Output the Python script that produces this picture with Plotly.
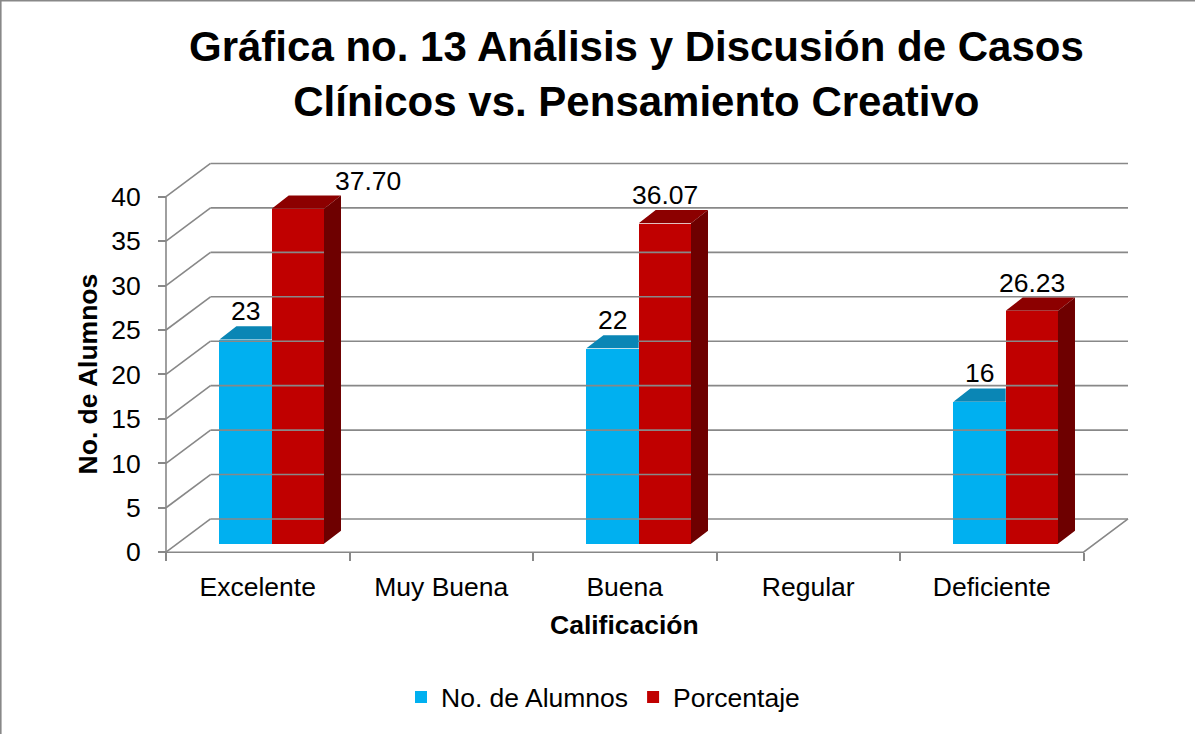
import plotly.graph_objects as go

# ---- data -------------------------------------------------------------
categorias = ["Excelente", "Muy Buena", "Buena", "Regular", "Deficiente"]
alumnos = [23, None, 22, None, 16]
porcentaje = [37.70, None, 36.07, None, 26.23]
y_ticks = [0, 5, 10, 15, 20, 25, 30, 35, 40]

# ---- geometry of the pseudo-3D frame (pixels) -------------------------
W, H = 1195, 740
FRONT_X = 166.0      # left end of the front floor edge (x = -0.5)
CAT_PX = 183.5       # width of one category
FLOOR_Y = 556.7      # value 0 on the front plane
UNIT_PX = 8.96       # pixels per value unit
WALL_DX, WALL_DY = 44.5, 33.5   # back wall offset
BAR_DX, BAR_DY = 17.0, 13.3     # bar extrusion depth
BAR_LIFT = 8.4                  # bars stand slightly behind the front plane
BAR_OFFSET, BAR_W = -0.209, 0.285

X_LEFT, X_RIGHT, Y_TOP, Y_BOTTOM = 156, 1140, 150, 566

GRID = "#888888"
BLUE, BLUE_TOP = "#00B0F0", "#0A86B5"
RED, RED_TOP, RED_SIDE = "#C00000", "#8C0000", "#6E0000"
FONT = "Arial, Liberation Sans, sans-serif"
TXT = 26.5


def ux(px):
    return px / CAT_PX


def uy(px):
    return px / UNIT_PX


x_range = [-0.5 + ux(X_LEFT - FRONT_X), -0.5 + ux(X_RIGHT - FRONT_X)]
y_range = [uy(FLOOR_Y - Y_BOTTOM), uy(FLOOR_Y - Y_TOP)]
n = len(categorias)
base = uy(BAR_LIFT)
wdx, wdy = ux(WALL_DX), uy(WALL_DY)
bdx, bdy = ux(BAR_DX), uy(BAR_DY)

fig = go.Figure()

# ---- walls, floor and gridlines ---------------------------------------
frame_x, frame_y = [], []
for v in y_ticks:
    # back wall gridline
    frame_x += [-0.5 + wdx, n - 0.5 + wdx, None]
    frame_y += [v + wdy, v + wdy, None]
    # left wall diagonal
    frame_x += [-0.5, -0.5 + wdx, None]
    frame_y += [v, v + wdy, None]
# front value axis and floor edges
frame_x += [-0.5, -0.5, None, -0.5, n - 0.5, n - 0.5 + wdx, None]
frame_y += [y_ticks[-1], 0, None, 0, 0, wdy, None]
fig.add_trace(go.Scatter(x=frame_x, y=frame_y, mode="lines",
                         line=dict(color=GRID, width=1.6),
                         hoverinfo="skip", showlegend=False))

# ---- bars (front faces) -----------------------------------------------
xs = list(range(n))
fig.add_trace(go.Bar(x=xs, y=alumnos, base=base, offset=BAR_OFFSET, width=BAR_W,
                     marker=dict(color=BLUE, line=dict(width=0)),
                     name="No. de Alumnos"))
fig.add_trace(go.Bar(x=xs, y=porcentaje, base=base, offset=BAR_OFFSET + BAR_W,
                     width=BAR_W, marker=dict(color=RED, line=dict(width=0)),
                     name="Porcentaje"))


# ---- extruded top and side faces --------------------------------------
def faces(values, offset, side, covered_right):
    top_x, top_y, side_x, side_y = [], [], [], []
    for i, v in enumerate(values):
        if v is None:
            continue
        xl, xr = i + offset, i + offset + BAR_W
        b, t = base, base + v
        if covered_right:
            # the neighbouring bar hides everything right of xr
            top_x += [xl, xr, xr, xl + bdx, xl, None]
            top_y += [t, t, t + bdy, t + bdy, t, None]
        else:
            top_x += [xl, xr, xr + bdx, xl + bdx, xl, None]
            top_y += [t, t, t + bdy, t + bdy, t, None]
        if side:
            side_x += [xr, xr + bdx, xr + bdx, xr, xr, None]
            side_y += [b, b + bdy, t + bdy, t, b, None]
    return top_x, top_y, side_x, side_y


for vals, off, top_c, side_c, covered in [
    (alumnos, BAR_OFFSET, BLUE_TOP, None, True),
    (porcentaje, BAR_OFFSET + BAR_W, RED_TOP, RED_SIDE, False),
]:
    tx, ty, sx, sy = faces(vals, off, side_c is not None, covered)
    fig.add_trace(go.Scatter(x=tx, y=ty, mode="lines", fill="toself",
                             fillcolor=top_c, line=dict(width=0, color=top_c),
                             hoverinfo="skip", showlegend=False))
    if side_c:
        fig.add_trace(go.Scatter(x=sx, y=sy, mode="lines", fill="toself",
                                 fillcolor=side_c, line=dict(width=0, color=side_c),
                                 hoverinfo="skip", showlegend=False))

# ---- data labels ------------------------------------------------------
annotations = []
for vals, off, fmt, shifts in [
    (alumnos, BAR_OFFSET, "{:d}", {}),
    (porcentaje, BAR_OFFSET + BAR_W, "{:.2f}", {0: 70}),
]:
    for i, v in enumerate(vals):
        if v is None:
            continue
        annotations.append(dict(
            x=i + off + BAR_W / 2, y=base + v + bdy, xref="x", yref="y",
            text=fmt.format(v), showarrow=False, xanchor="center",
            yanchor="bottom", xshift=shifts.get(i, 0), yshift=-2,
            font=dict(family=FONT, size=TXT, color="black")))

# chart title
annotations.append(dict(
    x=636 / W, y=1 - 75 / H, xref="paper", yref="paper",
    xanchor="center", yanchor="middle", showarrow=False,
    text="Gráfica no. 13 Análisis y Discusión de Casos<br>"
         "Clínicos vs. Pensamiento Creativo",
    font=dict(family=FONT, size=42, color="black", weight="bold")))

# axis titles, centred on the front axes
annotations.append(dict(
    x=((FRONT_X + FRONT_X + n * CAT_PX) / 2) / W, y=1 - 630 / H,
    xref="paper", yref="paper", xanchor="center", yanchor="middle",
    text="Calificación", showarrow=False,
    font=dict(family=FONT, size=TXT, color="black", weight="bold")))
annotations.append(dict(
    x=88 / W, y=1 - ((FLOOR_Y + FLOOR_Y - 40 * UNIT_PX) / 2) / H,
    xref="paper", yref="paper", xanchor="center", yanchor="middle",
    text="No. de Alumnos", showarrow=False, textangle=-90,
    font=dict(family=FONT, size=TXT, color="black", weight="bold")))

fig.update_layout(
    width=W, height=H,
    margin=dict(l=0, r=0, t=0, b=0),
    paper_bgcolor="white", plot_bgcolor="rgba(0,0,0,0)",
    barmode="overlay", bargap=0,
    font=dict(family=FONT, size=TXT, color="black"),
    xaxis=dict(domain=[X_LEFT / W, X_RIGHT / W], range=x_range,
               anchor="free", position=1 - FLOOR_Y / H,
               tickmode="array", tickvals=xs, ticktext=categorias,
               ticks="", ticklabelstandoff=16, showgrid=False, zeroline=False,
               showline=False,
               minor=dict(tickmode="array",
                          tickvals=[i - 0.5 for i in range(n + 1)],
                          ticks="outside", ticklen=8, tickwidth=1.6,
                          tickcolor=GRID, showgrid=False),
               tickfont=dict(family=FONT, size=TXT, color="black")),
    yaxis=dict(domain=[1 - Y_BOTTOM / H, 1 - Y_TOP / H], range=y_range,
               anchor="free", position=FRONT_X / W,
               tickmode="array", tickvals=y_ticks,
               ticks="outside", ticklen=8, tickwidth=1.6, tickcolor=GRID,
               ticklabelstandoff=12, showgrid=False, zeroline=False,
               showline=False,
               tickfont=dict(family=FONT, size=TXT, color="black")),
    legend=dict(orientation="h", x=401 / W, xanchor="left",
                y=1 - 703 / H, yanchor="middle",
                font=dict(family=FONT, size=TXT, color="black"),
                bgcolor="rgba(0,0,0,0)", traceorder="normal"),
    annotations=annotations,
    shapes=[
        dict(type="line", xref="paper", yref="paper",
             x0=0.8 / W, x1=0.8 / W, y0=0, y1=1, line=dict(color=GRID, width=1.6)),
        dict(type="line", xref="paper", yref="paper",
             x0=0, x1=1, y0=1 - 0.8 / H, y1=1 - 0.8 / H,
             line=dict(color=GRID, width=1.6)),
    ],
    showlegend=True,
)

fig.write_html("out.html")
